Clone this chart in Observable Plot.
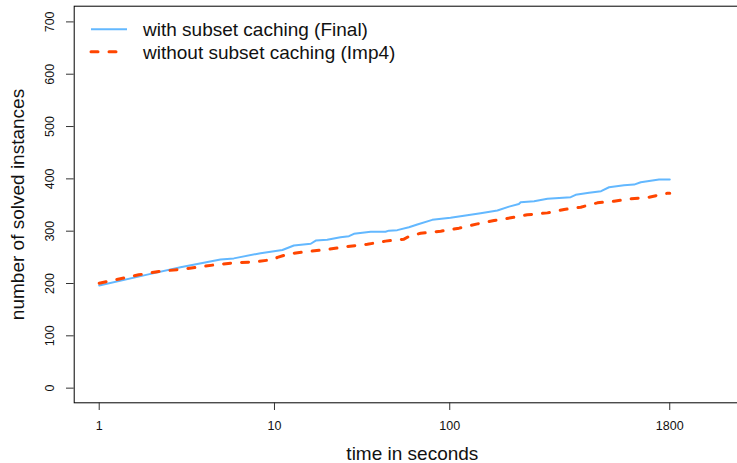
<!DOCTYPE html>
<html>
<head>
<meta charset="utf-8">
<script src="https://cdn.jsdelivr.net/npm/d3@7"></script>
<script src="https://cdn.jsdelivr.net/npm/@observablehq/plot@0.6"></script>
<style>
  html, body { margin: 0; padding: 0; background: #fff; }
  #wrap { position: relative; width: 737px; height: 463px; overflow: hidden; }
  #wrap svg { max-width: none !important; }
  #legend { position: absolute; left: 0; top: 0; }
  text { font-family: "Liberation Sans", Arial, Helvetica, sans-serif; }
</style>
</head>
<body>
<div id="wrap"></div>
<script>
// Series names
const seriesNames = ["with subset caching (Final)", "without subset caching (Imp4)"];
// With subset caching (Final): time (s), solved instances
const finalTime = [1, 1.88, 2.91, 4.92, 5.86, 8.33, 11.1, 12.9, 16.1, 17.2, 20, 23.8, 26.6, 28.4, 35.4, 43, 45, 50.2, 58.5, 65.3, 79.5, 101, 150, 187, 218, 248, 254, 303, 361, 490, 523, 624, 730, 811, 987, 1127, 1230, 1564, 1800];
const finalSolved = [196, 217, 231, 246, 248, 258, 264, 272.6, 276, 282, 283.5, 288.5, 290.4, 295, 298.8, 299, 301, 302, 307.6, 312.8, 321.7, 325.6, 334.4, 339.5, 347, 352, 355.4, 357.3, 361.8, 365, 369.5, 373.3, 376.4, 384, 387.9, 389, 393.6, 398.7, 399];
// Without subset caching (Imp4)
const imp4Time = [1, 1.32, 1.68, 2.19, 2.85, 3.62, 4.71, 6.0, 7.8, 9.9, 10.4, 12.1, 15.4, 20.5, 26, 33.9, 43, 54.8, 58.5, 68.2, 88.8, 113, 144, 179, 223, 277, 361, 449, 559, 696, 865, 1078, 1372, 1745, 1800];
const imp4Solved = [200.6, 209, 216.6, 223, 226.8, 231, 236.3, 239.6, 241.5, 246, 250, 256.8, 261, 265.6, 270.7, 275, 281, 284.8, 290, 296, 300, 305.8, 314, 320.4, 325.6, 331.3, 335, 341.4, 345.8, 354.2, 357.3, 361.8, 365, 372.6, 372.6];
// Tick labels
const xTicks = [1, 10, 100, 1800];
const yTicks = [0, 100, 200, 300, 400, 500, 600, 700];

const finalData = finalTime.map((t, i) => ({t, v: finalSolved[i]}));
const imp4Data = imp4Time.map((t, i) => ({t, v: imp4Solved[i]}));

const blue = "#63B8FF", red = "#FF4500";
const font = "'Liberation Sans', Arial, Helvetica, sans-serif";

const chart = Plot.plot({
  width: 750,
  height: 463,
  marginLeft: 73.7,
  marginRight: 0,
  marginTop: 5.7,
  marginBottom: 60.7,
  style: {fontFamily: font, background: "#fff", color: "#000", overflow: "visible", maxWidth: "none"},
  x: {type: "log", domain: [0.72, 5200], axis: null},
  y: {domain: [-28, 730], axis: null},
  marks: [
    Plot.line(finalData, {x: "t", y: "v", stroke: blue, strokeWidth: 2}),
    Plot.line(imp4Data, {x: "t", y: "v", stroke: red, strokeWidth: 3, strokeDasharray: "7 11", strokeLinecap: "round"}),
    Plot.frame({stroke: "#000", strokeWidth: 1}),
    Plot.axisX({ticks: xTicks, tickSize: 7.7, tickFormat: () => "", label: null, stroke: "#333"}),
    Plot.axisY({ticks: yTicks, tickSize: 7.7, tickFormat: () => "", label: null, stroke: "#333"}),
    Plot.text(xTicks, {x: d => d, frameAnchor: "bottom", dy: 23, text: d => String(d), fontSize: 12.5, fill: "#111", textAnchor: "middle", lineAnchor: "middle"}),
    Plot.text(yTicks, {y: d => d, frameAnchor: "left", dx: -24, rotate: -90, text: d => String(d), fontSize: 12.5, fill: "#111", textAnchor: "middle", lineAnchor: "middle"}),
    Plot.text(["time in seconds"], {frameAnchor: "bottom", dy: 51, text: d => d, fontSize: 19, fill: "#111", textAnchor: "middle", lineAnchor: "middle"}),
    Plot.text(["number of solved instances"], {frameAnchor: "left", dx: -56, rotate: -90, text: d => d, fontSize: 19, fill: "#111", textAnchor: "middle", lineAnchor: "middle"})
  ]
});

const wrap = document.getElementById("wrap");
wrap.appendChild(chart);

// Legend overlay
const ns = "http://www.w3.org/2000/svg";
const leg = document.createElementNS(ns, "svg");
leg.setAttribute("id", "legend");
leg.setAttribute("width", 420);
leg.setAttribute("height", 70);
const entries = [
  {name: seriesNames[0], color: blue, w: 2, dash: null, y: 29.3},
  {name: seriesNames[1], color: red, w: 3, dash: "7 11", y: 51.7}
];
for (const e of entries) {
  const l = document.createElementNS(ns, "line");
  l.setAttribute("x1", 91); l.setAttribute("x2", e.dash ? 118 : 127);
  l.setAttribute("y1", e.y); l.setAttribute("y2", e.y);
  l.setAttribute("stroke", e.color); l.setAttribute("stroke-width", e.w);
  if (e.dash) { l.setAttribute("stroke-dasharray", e.dash); l.setAttribute("stroke-linecap", "round"); }
  leg.appendChild(l);
  const t = document.createElementNS(ns, "text");
  t.setAttribute("x", 143); t.setAttribute("y", e.y);
  t.setAttribute("dy", "0.36em");
  t.setAttribute("font-size", 19);
  t.setAttribute("fill", "#111");
  t.textContent = e.name;
  leg.appendChild(t);
}
wrap.appendChild(leg);
</script>
</body>
</html>
